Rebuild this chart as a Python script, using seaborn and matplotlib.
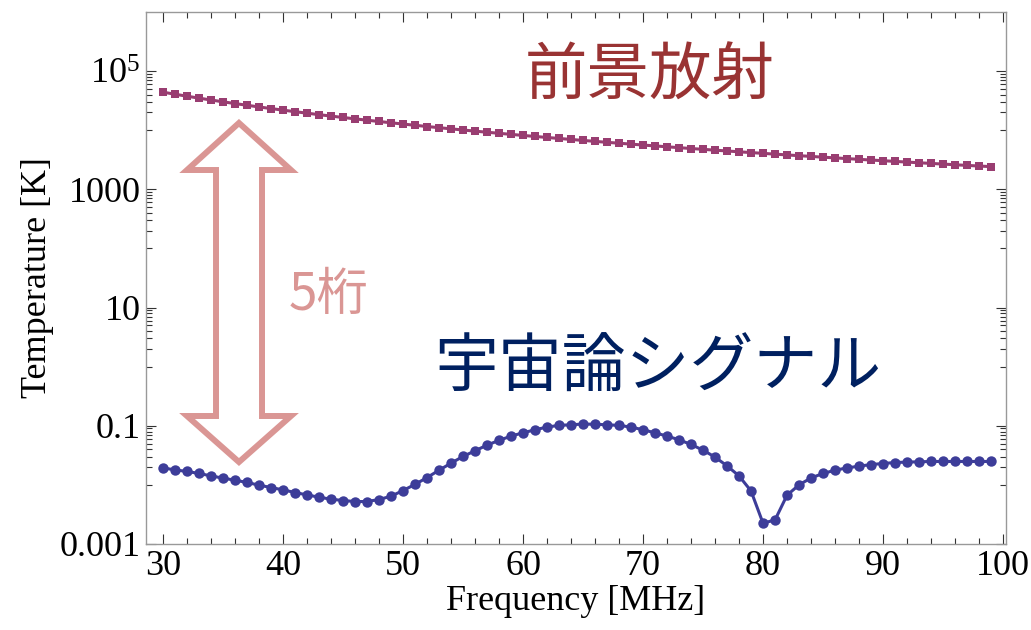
import numpy as np
import matplotlib
matplotlib.use("Agg")
import matplotlib.pyplot as plt
import seaborn as sns
from matplotlib.patches import Polygon
from matplotlib.ticker import FixedLocator, FixedFormatter

# ---- data ----
freq = list(range(30, 100))

foreground = [
    44000, 40630, 37620, 34900, 32450, 30240, 28250, 26430, 24760, 23250,
    21860, 20590, 19430, 18340, 17340, 16430, 15570, 14780, 14050, 13360,
    12720, 12120, 11560, 11040, 10550, 10090, 9650, 9250, 8870, 8510,
    8160, 7850, 7540, 7260, 6980, 6720, 6480, 6240, 6030, 5820,
    5615, 5425, 5245, 5070, 4905, 4750, 4600, 4455, 4315, 4185,
    4060, 3940, 3820, 3710, 3605, 3500, 3405, 3310, 3220, 3130,
    3050, 2970, 2890, 2815, 2745, 2675, 2605, 2540, 2480, 2420,
]

signal = [
    0.0194, 0.0179, 0.0169, 0.0156, 0.0142, 0.0130, 0.0120, 0.0110, 0.00989, 0.00903,
    0.00823, 0.00743, 0.00677, 0.00619, 0.00573, 0.00544, 0.00523, 0.00523, 0.00566, 0.00643,
    0.00803, 0.0102, 0.0133, 0.0177, 0.0233, 0.0303, 0.0377, 0.0471, 0.0566, 0.0669,
    0.0761, 0.0855, 0.0951, 0.1016, 0.104, 0.107, 0.106, 0.104, 0.1015, 0.095,
    0.0856, 0.076, 0.0669, 0.058, 0.0483, 0.0387, 0.0295, 0.0210, 0.0142, 0.0079,
    0.00225, 0.00255, 0.00668, 0.0100, 0.0131, 0.0156, 0.0177, 0.0194, 0.0207, 0.0221,
    0.0230, 0.0239, 0.0243, 0.0246, 0.0249, 0.0249, 0.0249, 0.0249, 0.0249, 0.0249,
]

x_ticks = [30, 40, 50, 60, 70, 80, 90, 100]
y_ticks = [1e-3, 1e-1, 1e1, 1e3, 1e5]
y_ticklabels = ["0.001", "0.1", "10", "1000", r"$\mathregular{10^5}$"]

FG_COLOR = "#993d71"
SIG_COLOR = "#3d3d99"
ARROW_COLOR = "#da9694"

# ---- style ----
sns.set_theme(style="white")
plt.rcParams["font.family"] = ["Liberation Serif", "DejaVu Serif"]
plt.rcParams["mathtext.fontset"] = "custom"
plt.rcParams["mathtext.rm"] = "Liberation Serif"
plt.rcParams["mathtext.it"] = "Liberation Serif:italic"
plt.rcParams["text.color"] = "black"
plt.rcParams["axes.labelcolor"] = "black"

fig = plt.figure(figsize=(10.31, 6.30), dpi=100)
ax = fig.add_axes([146 / 1031, 86 / 630, 860 / 1031, 532 / 630])

sns.lineplot(x=freq, y=foreground, ax=ax, color=FG_COLOR, marker="s",
             markersize=6, markeredgewidth=0, linewidth=2.2)
sns.lineplot(x=freq, y=signal, ax=ax, color=SIG_COLOR, marker="o",
             markersize=7.5, markeredgewidth=0, linewidth=2.2)

ax.set_yscale("log")
ax.set_xlim(28.58, 100.25)
ax.set_ylim(1e-3, 1e6)

ax.xaxis.set_major_locator(FixedLocator(x_ticks))
ax.xaxis.set_minor_locator(FixedLocator(np.arange(30, 101, 2)))
ax.yaxis.set_major_locator(FixedLocator(y_ticks))
ax.yaxis.set_major_formatter(FixedFormatter(y_ticklabels))
minor_y = [m * s for m in y_ticks for s in [0.9, 0.8, 0.7, 0.6, 0.5, 0.4, 0.3, 0.2, 0.1]]
ax.yaxis.set_minor_locator(FixedLocator(minor_y))
ax.yaxis.set_minor_formatter(FixedFormatter([""] * len(minor_y)))

ax.tick_params(which="both", direction="in", top=True, right=True,
               bottom=True, left=True, color="#333333", labelcolor="black",
               labelsize=26, width=0.8)
ax.tick_params(which="major", length=7, pad=4)
ax.tick_params(which="minor", length=4)
for sp in ax.spines.values():
    sp.set_color("#999999")
    sp.set_linewidth(1.0)

ax.set_xlabel("Frequency [MHz]", fontsize=26, labelpad=2)
ax.set_ylabel("Temperature [K]", fontsize=26, labelpad=4)

# ---- annotations ----
cjk = ["Noto Sans CJK JP", "DejaVu Sans"]
ax.text(0.586, 0.878, "前景放射", transform=ax.transAxes, ha="center", va="center",
        fontsize=45, color="#993333", family=cjk)
ax.text(0.595, 0.33, "宇宙論シグナル", transform=ax.transAxes, ha="center", va="center",
        fontsize=46, color="#002060", family=cjk)
ax.text(0.212, 0.468, "5桁", transform=ax.transAxes, ha="center", va="center",
        fontsize=37, color=ARROW_COLOR, family=cjk)

arrow_pts = [
    (0.1081, 0.7914), (0.1686, 0.7030), (0.1349, 0.7030), (0.1349, 0.2406),
    (0.1686, 0.2406), (0.1081, 0.1541), (0.0477, 0.2406), (0.0814, 0.2406),
    (0.0814, 0.7030), (0.0477, 0.7030),
]
ax.add_patch(Polygon(arrow_pts, closed=True, transform=ax.transAxes,
                     facecolor="none", edgecolor=ARROW_COLOR, linewidth=4.3,
                     joinstyle="miter", zorder=3))

fig.savefig("out.png", dpi=100)
